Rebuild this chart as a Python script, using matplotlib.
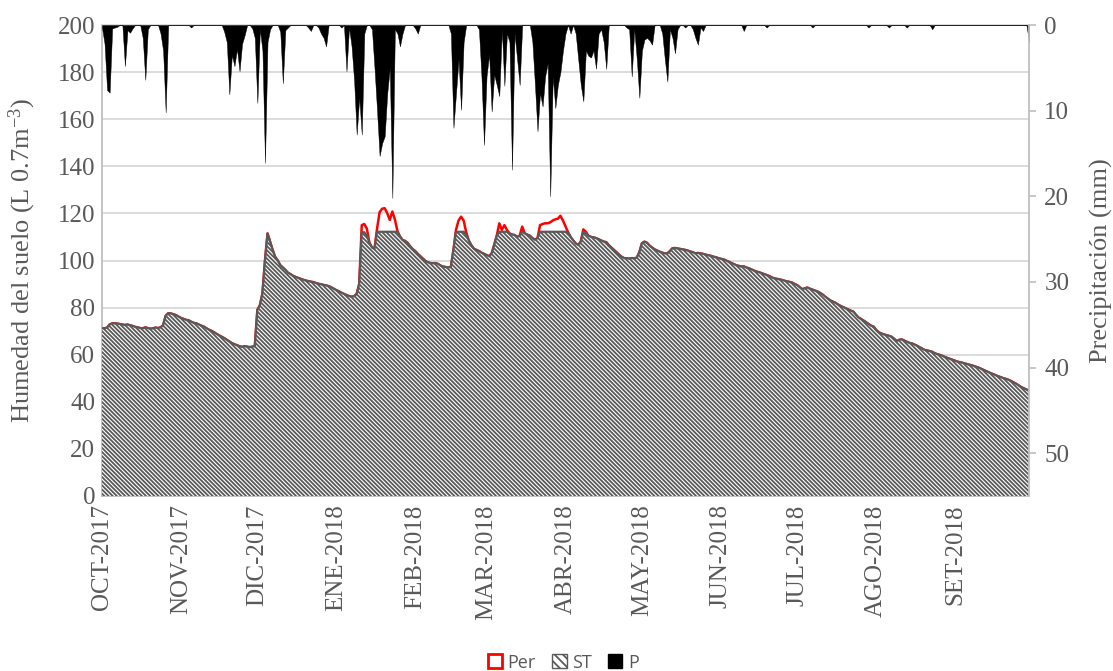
import numpy as np
import matplotlib
matplotlib.use("Agg")
import matplotlib.pyplot as plt
from matplotlib.patches import Patch

# ---------------- data ----------------
month_labels = ["OCT-2017", "NOV-2017", "DIC-2017", "ENE-2018", "FEB-2018", "MAR-2018",
                "ABR-2018", "MAY-2018", "JUN-2018", "JUL-2018", "AGO-2018", "SET-2018"]
month_lengths = [31, 30, 31, 31, 28, 31, 30, 31, 30, 31, 31, 30]

# daily soil moisture ST (L 0.7 m-3)
st_oct = [71.2, 71.2, 71.5, 72.8, 73.3, 73.3, 73.2, 73.0, 72.8, 72.6, 72.8, 72.5, 72.2, 71.8, 71.6,
          71.3, 71.2, 71.6, 71.3, 71.0, 71.2, 71.5, 71.3, 71.6, 72.5, 76.5, 77.6, 77.5, 77.2, 76.8, 76.2]
st_nov = [75.6, 75.2, 74.8, 74.6, 74.0, 73.5, 73.3, 72.8, 72.3, 71.9, 71.2, 70.6, 70.1, 69.5, 68.8,
          68.2, 67.6, 67.0, 66.3, 65.6, 64.9, 64.4, 64.0, 63.6, 63.3, 63.6, 63.4, 63.2, 63.4, 63.6]
st_dic = [79.0, 81.0, 86.0, 100.0, 111.5, 108.0, 104.5, 101.5, 100.0, 98.0, 97.0, 96.0, 94.8, 94.2, 93.5,
          93.0, 92.6, 92.2, 91.8, 91.5, 91.2, 91.0, 90.8, 90.4, 90.1, 89.9, 89.6, 89.4, 89.1, 88.6, 88.0]
st_ene = [87.4, 86.9, 86.3, 85.8, 85.3, 84.9, 84.6, 84.8, 85.8, 90.0, 112.0, 112.0, 110.5, 107.5, 105.5,
          105.0, 112.2, 112.2, 112.2, 112.2, 112.2, 112.2, 112.2, 112.2, 112.2, 110.2, 108.7, 108.3, 107.5,
          106.0, 104.8]
st_feb = [104.0, 102.8, 101.8, 100.8, 99.8, 99.2, 98.9, 98.8, 98.9, 98.5, 97.8, 97.4, 97.2, 97.0,
          97.3, 104.5, 112.2, 112.2, 112.2, 112.2, 111.0, 108.5, 106.5, 105.0, 104.5, 104.0, 103.3, 102.8]
st_mar = [102.3, 101.8, 103.0, 106.6, 110.5, 112.2, 112.2, 112.2, 112.2, 111.5, 111.0, 110.8, 110.0,
          110.5, 112.2, 111.5, 111.0, 110.5, 109.5, 108.8, 109.5, 112.2, 112.2, 112.2, 112.2, 112.2,
          112.2, 112.2, 112.2, 112.2, 112.2]
st_abr = [112.2, 112.0, 110.0, 108.5, 107.2, 106.6, 108.0, 112.2, 111.5, 110.5, 110.0, 109.8, 109.5,
          109.0, 108.5, 108.0, 107.8, 106.5, 105.5, 104.5, 103.5, 102.5, 101.6, 101.0, 100.9, 100.8,
          101.0, 100.9, 101.2, 103.5]
st_may = [107.3, 108.0, 107.5, 106.3, 105.5, 104.7, 104.2, 103.7, 103.3, 103.0, 103.0, 104.0, 105.2,
          105.3, 105.1, 104.9, 104.7, 104.5, 104.2, 103.8, 103.5, 103.0, 103.2, 103.0, 102.8, 102.5,
          102.2, 102.0, 101.6, 101.4, 101.0]
st_jun = [100.7, 100.5, 100.0, 99.5, 99.0, 98.5, 98.0, 97.7, 97.4, 97.5, 97.0, 96.7, 96.2, 95.7, 95.3,
          95.0, 94.6, 94.2, 93.8, 93.4, 92.8, 92.4, 92.2, 92.0, 91.7, 91.4, 91.1, 90.9, 90.6, 90.0]
st_jul = [89.5, 88.6, 87.8, 88.2, 88.5, 88.0, 87.6, 87.2, 86.8, 86.2, 85.5, 84.6, 83.8, 83.0, 82.5,
          82.0, 81.3, 80.7, 80.2, 79.7, 79.2, 78.7, 78.3, 77.0, 75.8, 75.2, 74.5, 73.8, 73.0, 72.3, 71.9]
st_ago = [70.5, 69.5, 69.0, 68.6, 68.3, 68.0, 67.6, 66.8, 65.8, 66.3, 66.5, 66.0, 65.5, 65.0, 64.8,
          64.3, 63.8, 63.2, 62.6, 62.0, 61.8, 61.5, 61.2, 60.6, 60.2, 59.9, 59.5, 59.0, 58.6, 58.2, 57.8]
st_set = [57.4, 57.0, 56.8, 56.5, 56.2, 55.9, 55.6, 55.3, 54.9, 54.6, 54.1, 53.6, 53.1, 52.6, 52.1,
          51.7, 51.2, 50.8, 50.4, 50.0, 49.7, 49.3, 48.8, 48.2, 47.6, 46.9, 46.2, 45.7, 45.2, 44.7]

# days (index from 1-Oct-2017) where Per exceeds ST, and its value
per_days = [102, 103, 104, 108, 109, 110, 111, 112, 113, 114, 115, 116,
            139, 140, 141, 142, 143, 156, 157, 158, 159, 165,
            172, 173, 174, 175, 176, 177, 178, 179, 180, 181, 182, 189, 190]
per_vals = [115.0, 115.5, 113.5, 113.5, 120.5, 122.0, 122.2, 120.1, 117.2, 120.8, 117.5, 112.5,
            113.0, 117.0, 118.6, 117.0, 112.0, 115.8, 113.0, 115.0, 113.0, 114.4,
            115.0, 115.5, 115.8, 115.8, 116.2, 117.0, 117.5, 117.7, 119.0, 117.0, 114.5, 113.2, 112.2]

# daily precipitation P (mm): rainy days and amounts
rain_days = [0, 1, 2, 3, 4, 5, 6, 9, 10, 11, 12, 16, 17, 18, 23, 24, 25, 35,
             48, 49, 50, 51, 52, 53, 54, 55, 56, 59, 60, 61, 62, 63, 64, 65, 66, 70, 71, 72, 73,
             81, 82, 85, 86, 87, 88, 94, 96, 97, 98, 99, 100, 101, 102, 103,
             106, 107, 108, 109, 110, 111, 112, 113, 114, 115, 116, 117, 118, 123, 124,
             137, 138, 139, 140, 141, 142, 148, 149, 150, 151, 152, 153, 154, 155, 156, 157,
             158, 159, 160, 161, 162, 163, 164, 169, 170, 171, 172, 173, 174, 175, 176, 177,
             178, 179, 180, 181, 182, 184, 186, 187, 188, 189, 190, 191, 192, 193, 194, 195,
             196, 197, 198, 206, 207, 208, 209, 210, 211, 212, 213, 214, 215, 216, 220, 221,
             222, 223, 224, 225, 226, 229, 232, 233, 234, 235, 236, 252, 261, 279, 301, 309,
             316, 326, 364]
rain_mm = [0.3, 2.2, 7.6, 7.9, 0.4, 0.3, 0.2, 4.8, 0.6, 0.9, 0.4, 1.5, 6.4, 0.5, 1.0, 3.0, 10.2, 0.3,
           0.8, 2.0, 8.1, 3.5, 4.8, 2.8, 5.4, 2.2, 1.2, 0.4, 1.5, 9.1, 0.5, 3.0, 16.1, 2.0, 0.5, 0.8, 6.8,
           0.6, 0.3,
           0.3, 0.7, 0.3, 1.0, 1.5, 2.5, 0.3, 5.4, 0.3, 2.5, 6.5, 12.8, 8.5, 12.8, 1.0,
           0.5, 5.0, 10.0, 15.3, 13.8, 13.0, 8.0, 5.0, 20.2, 0.5, 1.0, 2.5, 1.0, 0.4, 1.0,
           1.0, 12.0, 8.0, 4.0, 9.9, 2.0, 0.5, 6.0, 14.0, 6.0, 3.4, 10.1, 5.8, 7.0, 8.3, 0.5,
           7.1, 1.0, 2.0, 16.9, 1.0, 4.0, 7.0, 2.0, 7.0, 12.4, 8.0, 9.5, 6.0, 4.5, 20.0, 6.0,
           9.7, 7.0, 5.5, 3.0, 1.0, 1.0, 1.0, 4.0, 7.0, 8.9, 3.0, 3.6, 3.8, 3.0, 5.1, 1.0,
           0.5, 2.0, 5.1, 0.3, 0.5, 6.0, 0.5, 4.0, 8.5, 3.0, 1.7, 1.5, 1.8, 2.3, 1.0, 4.0,
           6.6, 0.5, 1.5, 3.3, 0.5, 0.3, 0.5, 1.5, 2.3, 0.3, 0.7, 0.7, 0.3, 0.3, 0.3, 0.3,
           0.3, 0.5, 2.0]

# ---------------- build series ----------------
st = np.array(st_oct + st_nov + st_dic + st_ene + st_feb + st_mar + st_abr + st_may
              + st_jun + st_jul + st_ago + st_set)
ndays = sum(month_lengths)
days = np.arange(ndays)
per = st.copy()
per[per_days] = per_vals
p = np.zeros(ndays)
p[rain_days] = rain_mm
month_starts = np.concatenate([[0], np.cumsum(month_lengths)[:-1]])

# ---------------- style ----------------
plt.rcParams['font.family'] = ['Liberation Serif', 'DejaVu Serif']
plt.rcParams['mathtext.fontset'] = 'custom'
plt.rcParams['mathtext.rm'] = 'Liberation Serif'
plt.rcParams['mathtext.it'] = 'Liberation Serif:italic'
plt.rcParams['mathtext.default'] = 'regular'
plt.rcParams['hatch.linewidth'] = 1.3

HATCH = chr(92) * 8   # dense downward diagonal stripes
TXT = '#595959'
W, H = 1113, 671
fig = plt.figure(figsize=(W / 100, H / 100), dpi=100)
ax = fig.add_axes([102 / W, 1 - 496 / H, 927 / W, 471 / H])

ax.set_axisbelow(True)
ax.yaxis.grid(True, color='#d9d9d9', lw=1.3)

ax.fill_between(days, 0, per, facecolor='none', edgecolor='#ff0000', lw=1.8, zorder=2)
ax.fill_between(days, 0, st, facecolor='white', edgecolor='#595959', hatch=HATCH,
                lw=0, zorder=3)
ax.plot(days, st, color='#595959', lw=1.6, zorder=4)

ax.set_xlim(0, ndays - 1)
ax.set_ylim(0, 200)
ax.set_yticks(np.arange(0, 201, 20))
ax.set_xticks(month_starts)
ax.set_xticklabels(month_labels, rotation=90)
ax.tick_params(axis='x', length=0, pad=6, labelsize=18, labelcolor=TXT)
ax.tick_params(axis='y', length=0, pad=5, labelsize=18, labelcolor=TXT)
for s in ['left', 'bottom']:
    ax.spines[s].set_color('#bfbfbf')
    ax.spines[s].set_linewidth(1.3)
ax.spines['top'].set_color('#d9d9d9')
ax.spines['top'].set_linewidth(1.3)
ax.spines['right'].set_visible(False)
ax.set_ylabel('Humedad del suelo (L 0.7m$^{-3}$)', fontsize=19, color=TXT)
ax.yaxis.set_label_coords(-0.069, 0.5)

ax2 = ax.twinx()
ax2.fill_between(days, 0, p, facecolor='black', edgecolor='black', lw=0.3)
ax2.set_ylim(55, 0)
ax2.set_yticks(np.arange(0, 51, 10))
ax2.tick_params(axis='y', length=5, width=1.2, color='#bfbfbf', labelsize=18, labelcolor=TXT, pad=6)
for s in ['left', 'bottom', 'top']:
    ax2.spines[s].set_visible(False)
ax2.spines['right'].set_color('#bfbfbf')
ax2.spines['right'].set_linewidth(1.3)
ax2.set_ylabel('Precipitación (mm)', fontsize=19, color=TXT)
ax2.yaxis.set_label_coords(1.066, 0.5)

handles = [Patch(facecolor='white', edgecolor='#ff0000', lw=2, label='Per'),
           Patch(facecolor='white', edgecolor='#595959', hatch=chr(92) * 4, lw=1, label='ST'),
           Patch(facecolor='black', edgecolor='black', label='P')]
fig.legend(handles=handles, loc='lower center', bbox_to_anchor=(0.506, -0.025), ncol=3,
           frameon=False, prop={'family': 'Open Sans', 'size': 13}, labelcolor=TXT,
           handlelength=0.8, handleheight=0.8, handletextpad=0.3, columnspacing=0.9)

fig.savefig('out.png', dpi=100)
